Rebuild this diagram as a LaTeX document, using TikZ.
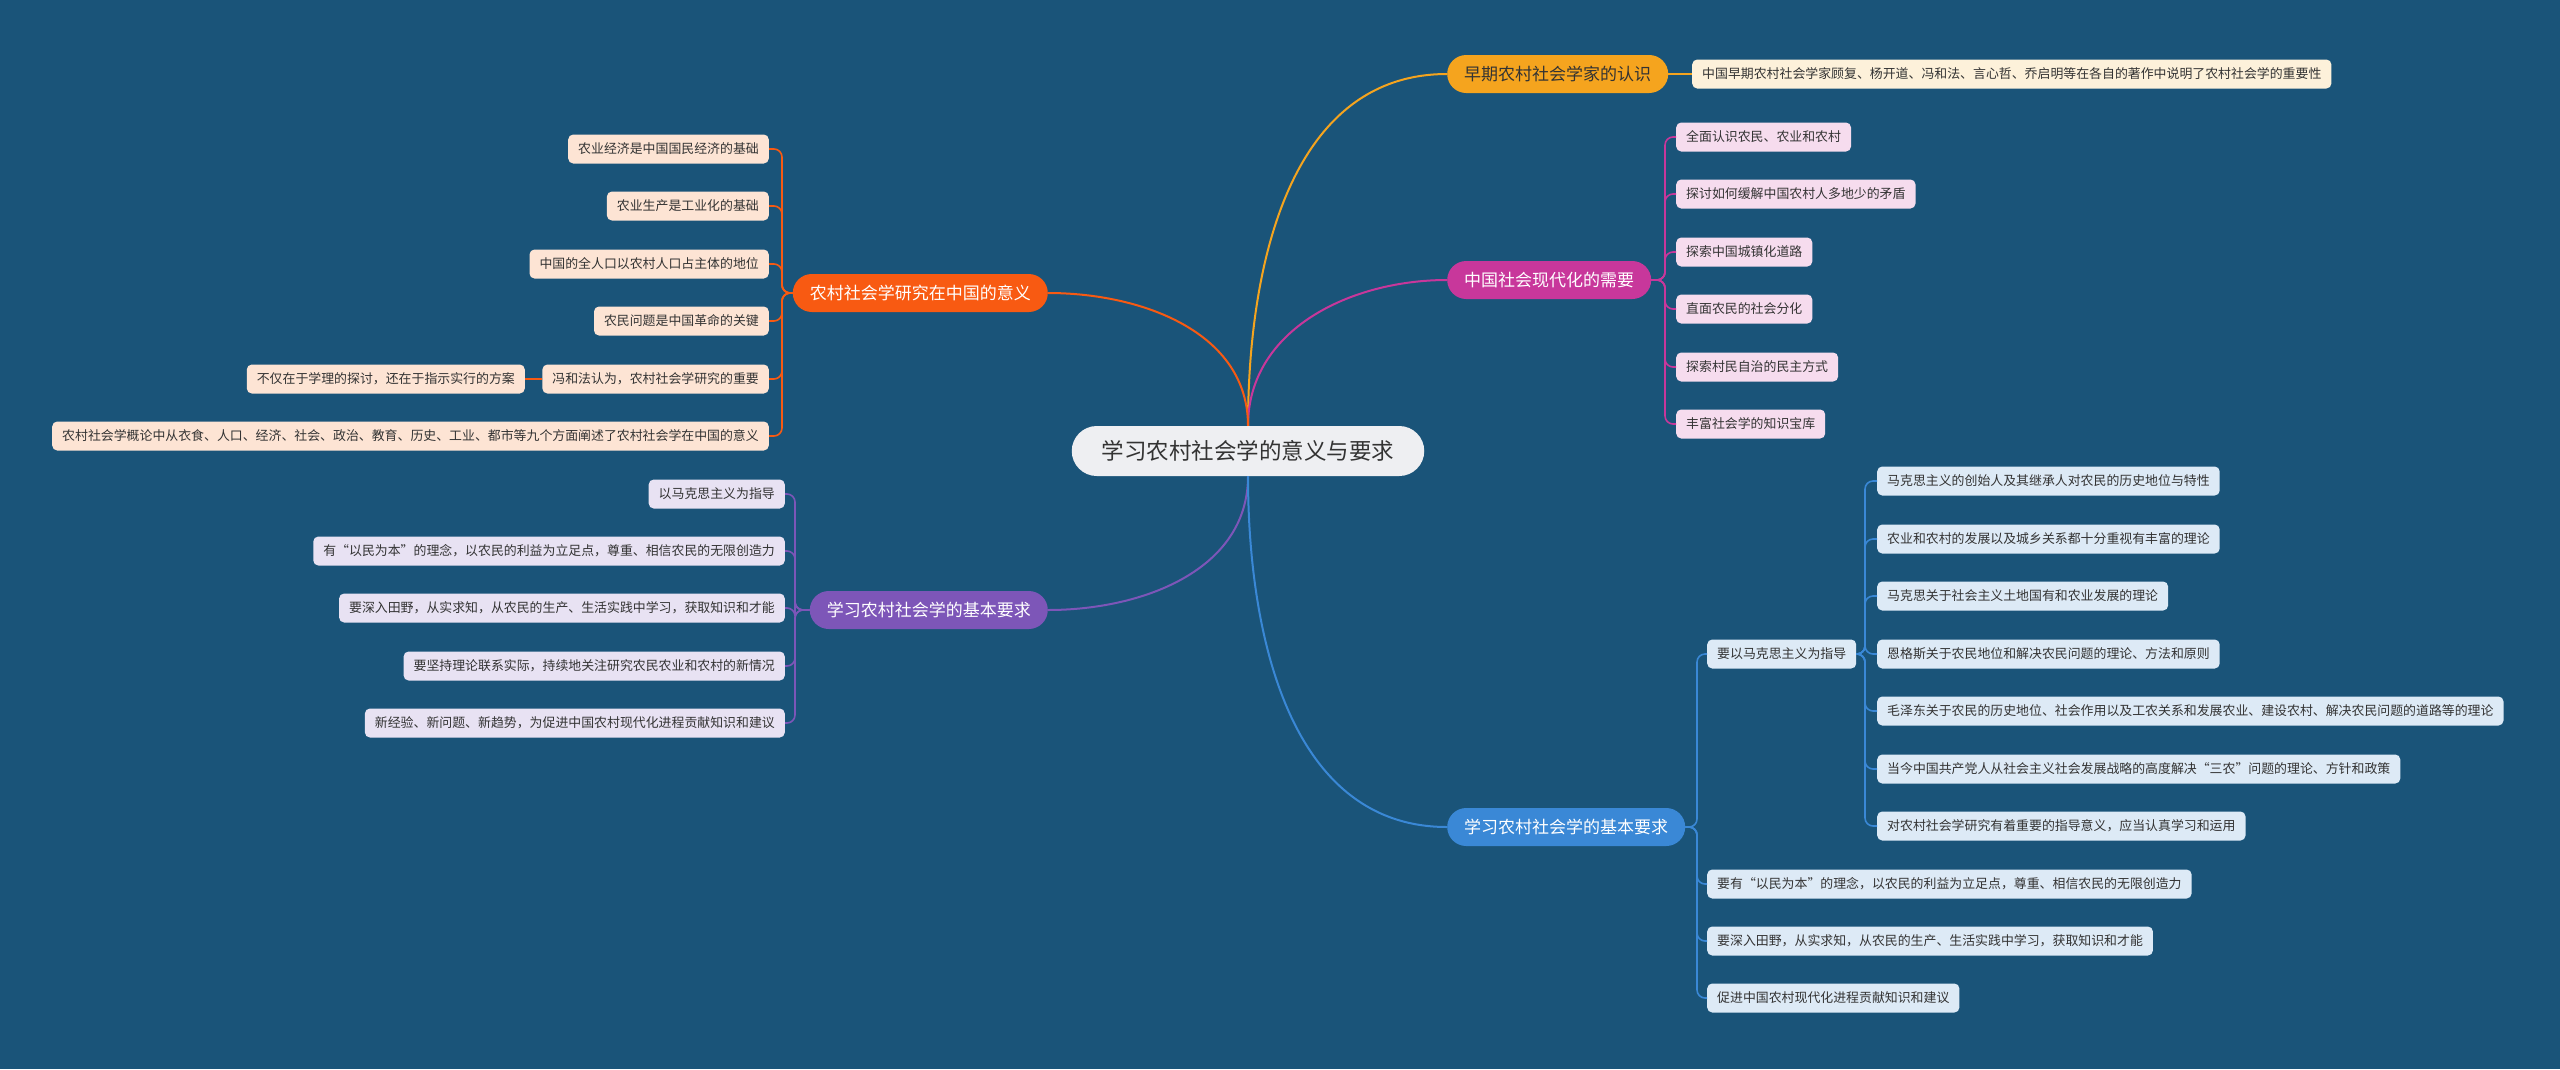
\documentclass[tikz,border=0pt]{standalone}
\usepackage{fontspec}
\setmainfont{Noto Sans CJK SC}
\definecolor{bgblue}{HTML}{1A5479}
\definecolor{textdark}{HTML}{333333}
\definecolor{rootfill}{HTML}{EEEFF2}
\definecolor{cEarly}{HTML}{F5A41E}
\definecolor{cModern}{HTML}{C8379B}
\definecolor{cReqR}{HTML}{3A88D6}
\definecolor{cSignif}{HTML}{F85A12}
\definecolor{cReqL}{HTML}{7D56B8}
\definecolor{fEarly}{HTML}{FDF1DA}
\definecolor{fModern}{HTML}{F6DCEE}
\definecolor{fReqR}{HTML}{DDEAF6}
\definecolor{fSignif}{HTML}{FDE4D4}
\definecolor{fReqL}{HTML}{E8E2F3}
\begin{document}
\begin{tikzpicture}[x=1pt, y=-1pt,
    root/.style={fill=rootfill, rounded corners=25pt, minimum height=50pt, inner xsep=30pt, inner ysep=0pt, font=\fontsize{22.5}{26}\selectfont, text=textdark},
    branch/.style={rounded corners=19pt, minimum height=38pt, inner xsep=17pt, inner ysep=0pt, font=\fontsize{17}{20}\selectfont, text=white},
    leaf/.style={rounded corners=5pt, minimum height=29pt, inner xsep=10pt, inner ysep=0pt, font=\fontsize{12.9}{15}\selectfont, text=textdark},
    link/.style={line width=2pt},
    twig/.style={line width=1.6pt, rounded corners=8pt}
]
\useasboundingbox (0,0) rectangle (2560,1069);
\fill[bgblue] (0,0) rectangle (2560,1069);

\node[root] (root) at (1248,451) {学习农村社会学的意义与要求};

% main branches
\node[branch, fill=cEarly, text=textdark, anchor=west] (early) at (1447,74) {早期农村社会学家的认识};
\node[branch, fill=cModern, anchor=west] (modern) at (1447,280) {中国社会现代化的需要};
\node[branch, fill=cReqR, anchor=west] (reqr) at (1447,827) {学习农村社会学的基本要求};
\node[branch, fill=cSignif, anchor=east] (signif) at (1048,293) {农村社会学研究在中国的意义};
\node[branch, fill=cReqL, anchor=east] (reql) at (1048,610) {学习农村社会学的基本要求};

\draw[link, draw=cEarly] (root.north) to[out=90, in=180] (early.west);
\draw[link, draw=cModern] (root.north) to[out=90, in=180] (modern.west);
\draw[link, draw=cSignif] (root.north) to[out=90, in=0] (signif.east);
\draw[link, draw=cReqL] (root.south) to[out=-90, in=0] (reql.east);
\draw[link, draw=cReqR] (root.south) to[out=-90, in=180] (reqr.west);

% early
\node[leaf, fill=fEarly, anchor=west] (e1) at (1692,74) {中国早期农村社会学家顾复、杨开道、冯和法、言心哲、乔启明等在各自的著作中说明了农村社会学的重要性};
\draw[twig, draw=cEarly] (early.east) -- (e1.west);

% modern
\node[leaf, fill=fModern, anchor=west] (m1) at (1676,137) {全面认识农民、农业和农村};
\node[leaf, fill=fModern, anchor=west] (m2) at (1676,194) {探讨如何缓解中国农村人多地少的矛盾};
\node[leaf, fill=fModern, anchor=west] (m3) at (1676,252) {探索中国城镇化道路};
\node[leaf, fill=fModern, anchor=west] (m4) at (1676,309) {直面农民的社会分化};
\node[leaf, fill=fModern, anchor=west] (m5) at (1676,367) {探索村民自治的民主方式};
\node[leaf, fill=fModern, anchor=west] (m6) at (1676,424) {丰富社会学的知识宝库};
\coordinate (mspine) at (1665,280);
\foreach \i in {1,...,6}
    \draw[twig, draw=cModern] (modern.east) -- (mspine) |- (m\i.west);

% right requirements
\node[leaf, fill=fReqR, anchor=west] (r1) at (1707,654) {要以马克思主义为指导};
\node[leaf, fill=fReqR, anchor=west] (r2) at (1707,884) {要有“以民为本”的理念，以农民的利益为立足点，尊重、相信农民的无限创造力};
\node[leaf, fill=fReqR, anchor=west] (r3) at (1707,941) {要深入田野，从实求知，从农民的生产、生活实践中学习，获取知识和才能};
\node[leaf, fill=fReqR, anchor=west] (r4) at (1707,998) {促进中国农村现代化进程贡献知识和建议};
\coordinate (rspine) at (1697,827);
\foreach \i in {1,...,4}
    \draw[twig, draw=cReqR] (reqr.east) -- (rspine) |- (r\i.west);

\node[leaf, fill=fReqR, anchor=west] (rm1) at (1877,481) {马克思主义的创始人及其继承人对农民的历史地位与特性};
\node[leaf, fill=fReqR, anchor=west] (rm2) at (1877,539) {农业和农村的发展以及城乡关系都十分重视有丰富的理论};
\node[leaf, fill=fReqR, anchor=west] (rm3) at (1877,596) {马克思关于社会主义土地国有和农业发展的理论};
\node[leaf, fill=fReqR, anchor=west] (rm4) at (1877,654) {恩格斯关于农民地位和解决农民问题的理论、方法和原则};
\node[leaf, fill=fReqR, anchor=west] (rm5) at (1877,711) {毛泽东关于农民的历史地位、社会作用以及工农关系和发展农业、建设农村、解决农民问题的道路等的理论};
\node[leaf, fill=fReqR, anchor=west] (rm6) at (1877,769) {当今中国共产党人从社会主义社会发展战略的高度解决“三农”问题的理论、方针和政策};
\node[leaf, fill=fReqR, anchor=west] (rm7) at (1877,826) {对农村社会学研究有着重要的指导意义，应当认真学习和运用};
\coordinate (rmspine) at (1865,654);
\foreach \i in {1,...,7}
    \draw[twig, draw=cReqR] (r1.east) -- (rmspine) |- (rm\i.west);

% significance
\node[leaf, fill=fSignif, anchor=east] (s1) at (769,149) {农业经济是中国国民经济的基础};
\node[leaf, fill=fSignif, anchor=east] (s2) at (769,206) {农业生产是工业化的基础};
\node[leaf, fill=fSignif, anchor=east] (s3) at (769,264) {中国的全人口以农村人口占主体的地位};
\node[leaf, fill=fSignif, anchor=east] (s4) at (769,321) {农民问题是中国革命的关键};
\node[leaf, fill=fSignif, anchor=east] (s5) at (769,379) {冯和法认为，农村社会学研究的重要};
\node[leaf, fill=fSignif, anchor=east] (s6) at (769,436) {农村社会学概论中从衣食、人口、经济、社会、政治、教育、历史、工业、都市等九个方面阐述了农村社会学在中国的意义};
\node[leaf, fill=fSignif, anchor=east] (s5a) at (525,379) {不仅在于学理的探讨，还在于指示实行的方案};
\coordinate (sspine) at (782,293);
\foreach \i in {1,...,6}
    \draw[twig, draw=cSignif] (signif.west) -- (sspine) |- (s\i.east);
\draw[twig, draw=cSignif, line width=2.5pt] (s5.west) -- (s5a.east);

% left requirements
\node[leaf, fill=fReqL, anchor=east] (l1) at (785,494) {以马克思主义为指导};
\node[leaf, fill=fReqL, anchor=east] (l2) at (785,551) {有“以民为本”的理念，以农民的利益为立足点，尊重、相信农民的无限创造力};
\node[leaf, fill=fReqL, anchor=east] (l3) at (785,608) {要深入田野，从实求知，从农民的生产、生活实践中学习，获取知识和才能};
\node[leaf, fill=fReqL, anchor=east] (l4) at (785,666) {要坚持理论联系实际，持续地关注研究农民农业和农村的新情况};
\node[leaf, fill=fReqL, anchor=east] (l5) at (785,723) {新经验、新问题、新趋势，为促进中国农村现代化进程贡献知识和建议};
\coordinate (lspine) at (795,610);
\foreach \i in {1,...,5}
    \draw[twig, draw=cReqL] (reql.west) -- (lspine) |- (l\i.east);

\end{tikzpicture}
\end{document}
